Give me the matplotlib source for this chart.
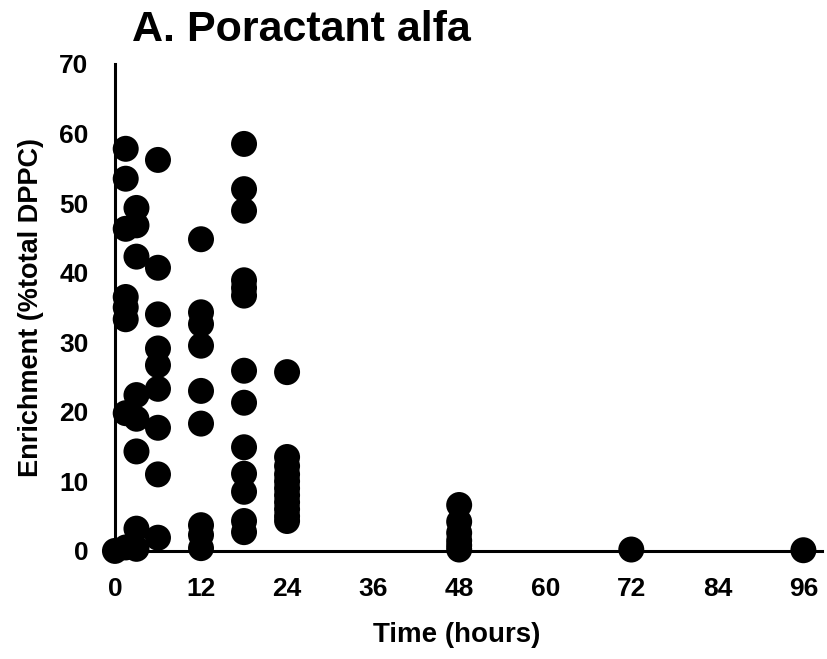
import matplotlib
matplotlib.use("Agg")
import matplotlib.pyplot as plt

# enrichment values (% total DPPC) read per sampling time (hours)
t0 = [0.0]
t1 = [57.8, 53.5, 46.3, 36.5, 35.0, 33.3, 19.8, 0.5]
t3 = [49.3, 46.8, 42.3, 22.4, 19.0, 14.3, 3.2, 0.3]
t6 = [56.2, 40.7, 34.0, 29.1, 26.7, 23.3, 17.7, 11.0, 1.9]
t12 = [44.8, 34.3, 32.6, 29.5, 23.0, 18.3, 3.7, 2.3, 0.4]
t18 = [58.5, 52.0, 48.9, 38.9, 37.8, 36.7, 25.9, 21.3, 14.9, 11.1, 8.5, 4.3, 2.7]
t24 = [25.7, 13.5, 12.2, 11.0, 10.0, 9.0, 8.0, 7.0, 6.0, 5.0, 4.3]
t48 = [6.6, 4.2, 2.6, 1.5, 0.8, 0.2]
t72 = [0.2]
t96 = [0.1]

times = [0, 1.5, 3, 6, 12, 18, 24, 48, 72, 96]
groups = [t0, t1, t3, t6, t12, t18, t24, t48, t72, t96]

x = [t for t, g in zip(times, groups) for _ in g]
y = [v for g in groups for v in g]

plt.rcParams["font.family"] = ["Liberation Sans", "DejaVu Sans"]
plt.rcParams["font.weight"] = "bold"

fig = plt.figure(figsize=(8.27, 6.59), dpi=100)
ax = fig.add_axes([0.139, 0.164, 0.855, 0.739])
ax.scatter(x, y, s=350, color="black", edgecolors="none", clip_on=False, zorder=3)

ax.set_xlim(0, 98.6)
ax.set_ylim(0, 70)
ax.set_xticks(range(0, 97, 12))
ax.set_yticks(range(0, 71, 10))
ax.tick_params(length=0, labelsize=19, pad=19)
for lab in ax.get_xticklabels() + ax.get_yticklabels():
    lab.set_fontweight("bold")

for s in ["top", "right"]:
    ax.spines[s].set_visible(False)
for s in ["left", "bottom"]:
    ax.spines[s].set_linewidth(2.2)

ax.set_xlabel("Time (hours)", fontsize=20, fontweight="bold")
ax.xaxis.set_label_coords(0.484, -0.146)
ax.set_ylabel("Enrichment (%total DPPC)", fontsize=19.5, fontweight="bold", labelpad=11)
fig.text(0.365, 0.955, "A. Poractant alfa", fontsize=31, fontweight="bold",
         ha="center", va="center")

fig.savefig("out.png", dpi=100)
